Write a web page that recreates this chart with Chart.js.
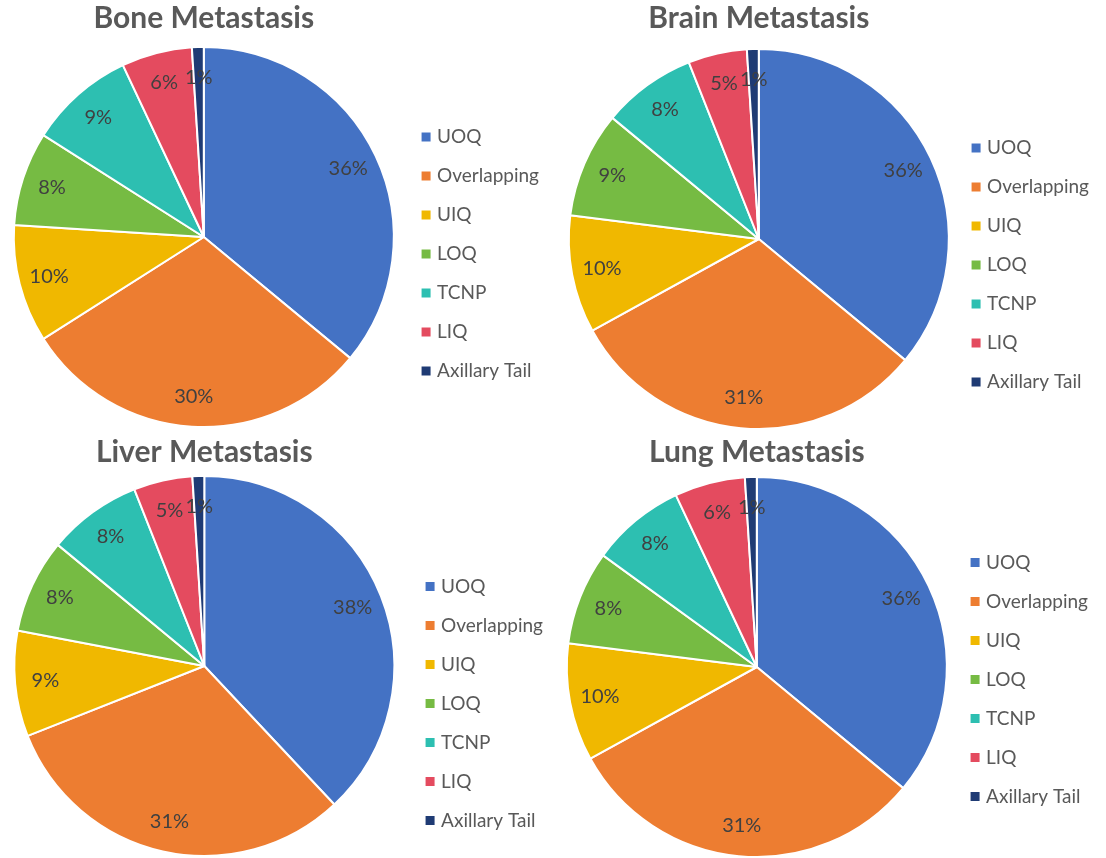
<!DOCTYPE html>
<html>
<head>
<meta charset="utf-8">
<title>Metastasis site by tumour location</title>
<script src="https://cdn.jsdelivr.net/npm/chart.js@4.4.1/dist/chart.umd.min.js"></script>
<style>
  html, body { margin: 0; padding: 0; background: #ffffff; }
  body { width: 1106px; height: 858px; position: relative; overflow: hidden; }
  .panel { position: absolute; }
</style>
</head>
<body>
<div class="panel" style="left:0;top:0;width:553px;height:432px"><canvas id="c0"></canvas></div>
<div class="panel" style="left:553px;top:0;width:553px;height:432px"><canvas id="c1"></canvas></div>
<div class="panel" style="left:0;top:432px;width:553px;height:426px"><canvas id="c2"></canvas></div>
<div class="panel" style="left:553px;top:432px;width:553px;height:426px"><canvas id="c3"></canvas></div>
<script>
// Tumour location categories (legend order, clockwise from 12 o'clock)
const categories = ['UOQ', 'Overlapping', 'UIQ', 'LOQ', 'TCNP', 'LIQ', 'Axillary Tail'];

// Share of patients (%) per location, one array per metastasis site
const boneValues  = [36, 30, 10, 8, 9, 6, 1];
const brainValues = [36, 31, 10, 9, 8, 5, 1];
const liverValues = [38, 31, 9, 8, 8, 5, 1];
const lungValues  = [36, 31, 10, 8, 8, 6, 1];

const chartTitles = ['Bone Metastasis', 'Brain Metastasis', 'Liver Metastasis', 'Lung Metastasis'];

const sliceColors = ['#4472C4', '#ED7D31', '#F0B800', '#76BB43', '#2DBFB1', '#E44B5F', '#1F3B74'];

// Panel geometry: chart-area left edge, legend left edge, paddings, title gap,
// and the height of the (blank) legend title used to push the key downwards
const panelLayout = [
  { left: 3,    legendLeft: 403,   top: 0, titleGap: 10, bottom: 4, legendShift: 80 },
  { left: 10,   legendLeft: 400,   top: 0, titleGap: 12, bottom: 2, legendShift: 100 },
  { left: -4.5, legendLeft: 409.5, top: 2, titleGap: 5,  bottom: 1, legendShift: 116 },
  { left: 7,    legendLeft: 399,   top: 2, titleGap: 6,  bottom: 0, legendShift: 67 }
];

const legendFont = { family: 'Lato', size: 19 };
const legendKeyWidth = 3;   // slot reserved before the text
const legendKeySize = 11;   // square marker side (white 2px edge included)
const legendPadding = 20;

// Width the legend needs for its longest entry
function legendWidthFor(labels) {
  const ctx = document.createElement('canvas').getContext('2d');
  ctx.font = legendFont.size + 'px ' + legendFont.family;
  const widest = Math.max(...labels.map(t => ctx.measureText(t).width));
  return legendPadding + legendKeyWidth + legendFont.size / 2 + widest + 10;
}

// Percentage labels placed inside each slice
const sliceLabels = {
  id: 'sliceLabels',
  afterDatasetsDraw(chart) {
    const ctx = chart.ctx;
    const meta = chart.getDatasetMeta(0);
    const values = chart.data.datasets[0].data;
    ctx.save();
    ctx.font = '20px Lato';
    ctx.fillStyle = '#404040';
    ctx.textAlign = 'center';
    ctx.textBaseline = 'middle';
    meta.data.forEach((arc, i) => {
      const p = arc.getProps(['x', 'y', 'startAngle', 'endAngle', 'outerRadius']);
      const mid = (p.startAngle + p.endAngle) / 2;
      const r = p.outerRadius * 0.84;
      ctx.fillText(values[i] + '%', p.x + Math.cos(mid) * r, p.y + Math.sin(mid) * r);
    });
    ctx.restore();
  }
};

const seriesList = [boneValues, brainValues, liverValues, lungValues];

seriesList.forEach((values, k) => {
  const lay = panelLayout[k];
  const panelWidth = 553;
  const legendWidth = Math.ceil(legendWidthFor(categories)) + 1;
  new Chart(document.getElementById('c' + k), {
    type: 'pie',
    data: {
      labels: categories,
      datasets: [{
        data: values,
        backgroundColor: sliceColors,
        borderColor: '#ffffff',
        borderWidth: 2
      }]
    },
    options: {
      responsive: true,
      maintainAspectRatio: false,
      animation: false,
      layout: {
        padding: {
          left: lay.left,
          right: Math.max(0, panelWidth - lay.legendLeft - legendWidth),
          top: lay.top,
          bottom: lay.bottom
        }
      },
      plugins: {
        title: {
          display: true,
          text: chartTitles[k],
          fullSize: false,
          color: '#595959',
          font: { family: 'Lato', size: 30, weight: 'bold', lineHeight: 1.2 },
          padding: { top: 0, bottom: lay.titleGap }
        },
        legend: {
          position: 'right',
          title: { display: true, text: ' ', font: { size: 10, lineHeight: 1.2 }, padding: (lay.legendShift - 12) / 2 },
          labels: {
            usePointStyle: true,
            pointStyle: 'rect',
            boxWidth: legendKeyWidth,
            boxHeight: legendKeySize,
            padding: legendPadding,
            color: '#595959',
            font: legendFont
          }
        },
        tooltip: { enabled: false }
      }
    },
    plugins: [sliceLabels]
  });
});
</script>
</body>
</html>
